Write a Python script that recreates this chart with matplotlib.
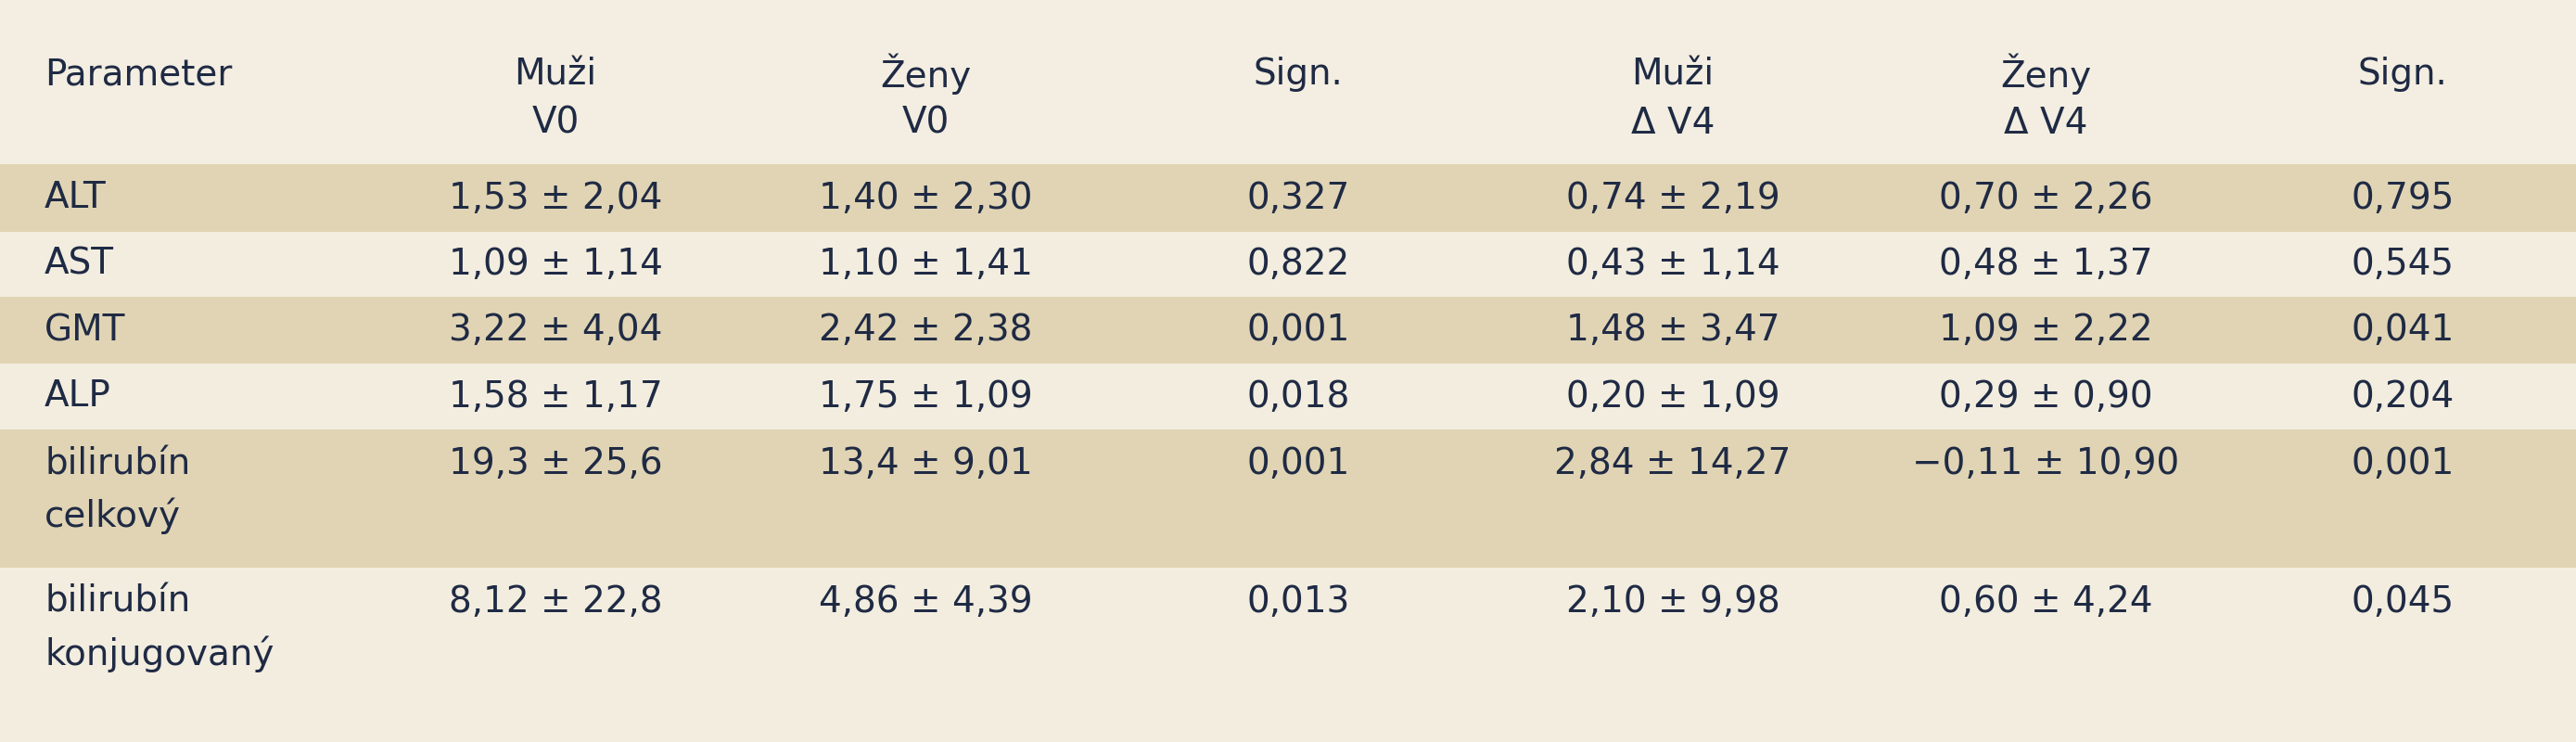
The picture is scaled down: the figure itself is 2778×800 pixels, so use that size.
import matplotlib
matplotlib.use("Agg")
import matplotlib.pyplot as plt
from matplotlib.patches import Rectangle

headers1 = ["Parameter", "Muži", "Ženy", "Sign.", "Muži", "Ženy", "Sign."]
headers2 = ["", "V0", "V0", "", "Δ V4", "Δ V4", ""]
params = ["ALT", "AST", "GMT", "ALP", "bilirubín\ncelkový", "bilirubín\nkonjugovaný"]
muzi_v0 = ["1,53 ± 2,04", "1,09 ± 1,14", "3,22 ± 4,04", "1,58 ± 1,17", "19,3 ± 25,6", "8,12 ± 22,8"]
zeny_v0 = ["1,40 ± 2,30", "1,10 ± 1,41", "2,42 ± 2,38", "1,75 ± 1,09", "13,4 ± 9,01", "4,86 ± 4,39"]
sign1 = ["0,327", "0,822", "0,001", "0,018", "0,001", "0,013"]
muzi_d4 = ["0,74 ± 2,19", "0,43 ± 1,14", "1,48 ± 3,47", "0,20 ± 1,09", "2,84 ± 14,27", "2,10 ± 9,98"]
zeny_d4 = ["0,70 ± 2,26", "0,48 ± 1,37", "1,09 ± 2,22", "0,29 ± 0,90", "−0,11 ± 10,90", "0,60 ± 4,24"]
sign2 = ["0,795", "0,545", "0,041", "0,204", "0,001", "0,045"]

W, H = 2778, 800
fig = plt.figure(figsize=(W/100, H/100), dpi=100)
ax = fig.add_axes([0, 0, 1, 1])
ax.set_xlim(0, W); ax.set_ylim(H, 0); ax.axis("off")
fig.patch.set_facecolor("#F3EEE1")

fam = ["DejaVu Sans"]
col = "#1F2A44"
fs = 28
xs = [48, 599, 998, 1400, 1804, 2206, 2591]
bounds = [177, 250, 320, 392, 463, 612, 800]
dark, light = "#E0D4B4", "#F2EDDF"

for j, h in enumerate(headers1):
    ha = "left" if j == 0 else "center"
    ax.text(xs[j], 80, h, ha=ha, va="center", fontsize=fs, color=col, family=fam)
    if headers2[j]:
        ax.text(xs[j], 133, headers2[j], ha=ha, va="center", fontsize=fs, color=col, family=fam)

cols = [muzi_v0, zeny_v0, sign1, muzi_d4, zeny_d4, sign2]
for i, p in enumerate(params):
    top, bot = bounds[i], bounds[i+1]
    ax.add_patch(Rectangle((0, top), W, bot-top, color=dark if i % 2 == 0 else light, lw=0))
    lines = p.split("\n")
    y1 = (top+bot)/2 if len(lines) == 1 else top + 37
    for k, ln in enumerate(lines):
        ax.text(xs[0], y1 + 56*k, ln, ha="left", va="center", fontsize=fs, color=col, family=fam)
    for j, c in enumerate(cols):
        ax.text(xs[j+1], y1, c[i], ha="center", va="center", fontsize=fs, color=col, family=fam)

fig.savefig("out.png", dpi=100, facecolor=fig.get_facecolor())
